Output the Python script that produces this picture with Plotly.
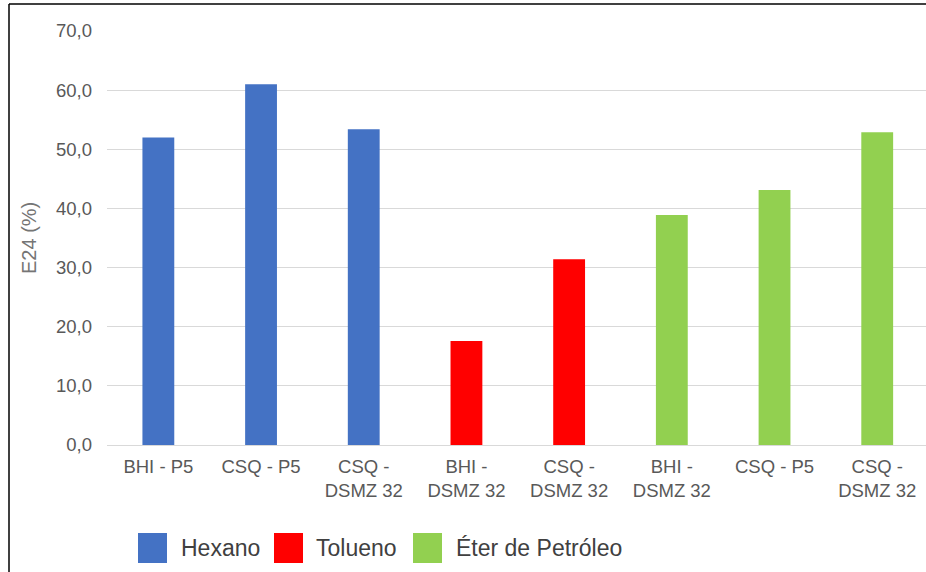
import plotly.graph_objects as go

# Category labels (one per bar, left to right)
categories = [
    "BHI - P5", "CSQ - P5", "CSQ -<br>DSMZ 32",
    "BHI -<br>DSMZ 32", "CSQ -<br>DSMZ 32",
    "BHI -<br>DSMZ 32", "CSQ - P5", "CSQ -<br>DSMZ 32",
]

# E24 values (%) per solvent
hexano = [52.0, 61.0, 53.4]
tolueno = [17.6, 31.4]
eter = [38.9, 43.1, 52.9]

series_names = ["Hexano", "Tolueno", "Éter de Petróleo"]
series_values = [hexano, tolueno, eter]
series_colors = ["#4472C4", "#FF0000", "#92D050"]

y_ticks = [0, 10, 20, 30, 40, 50, 60, 70]

W, H = 926, 572
L, R, T, B = 107, 926, 31, 445
FONT = "Liberation Sans, Arial, sans-serif"


def xp(px):
    return (px - L) / (R - L)


def yp(py):
    return (B - py) / (B - T)


fig = go.Figure()
pos = 0
for name, vals, col in zip(series_names, series_values, series_colors):
    xs = list(range(pos, pos + len(vals)))
    pos += len(vals)
    fig.add_trace(go.Bar(
        x=xs, y=vals, name=name, width=0.31,
        marker=dict(color=col, line=dict(color=col, width=0)),
        showlegend=False,
    ))

fig.update_layout(
    width=W, height=H,
    margin=dict(l=L, r=W - R, t=T, b=H - B, pad=0),
    paper_bgcolor="white", plot_bgcolor="white",
    barmode="overlay",
    separators=",.",
    font=dict(family=FONT, color="#595959", size=18.5),
    xaxis=dict(
        tickvals=list(range(len(categories))), ticktext=categories,
        range=[-0.5, 7.475], showgrid=False, zeroline=False,
        showline=False, ticks="", ticklabelstandoff=8,
        tickfont=dict(size=18.5, color="#595959"),
    ),
    yaxis=dict(
        range=[0, 70], tickvals=y_ticks, tickformat=".1f",
        showgrid=True, gridcolor="#d9d9d9", gridwidth=1,
        zeroline=True, zerolinecolor="#d9d9d9", zerolinewidth=1,
        showline=False, ticks="", ticklabelstandoff=14,
        tickfont=dict(size=18.5, color="#595959"),
    ),
)

# y-axis title
fig.add_annotation(
    text="E24 (%)", textangle=-90, showarrow=False,
    xref="paper", yref="paper", x=xp(29), y=yp(238),
    xanchor="center", yanchor="middle",
    font=dict(size=20, color="#757575", family=FONT),
)

# legend drawn as coloured squares with series names
legend_sq_x = [138, 274, 413]
legend_txt_x = [179, 314, 454]
sq_w, sq_top, sq_bot = 29, 533, 563
for name, col, sx, tx in zip(series_names, series_colors, legend_sq_x, legend_txt_x):
    fig.add_shape(
        type="rect", xref="paper", yref="paper",
        x0=xp(sx), x1=xp(sx + sq_w), y0=yp(sq_bot), y1=yp(sq_top),
        fillcolor=col, line=dict(width=0),
    )
    fig.add_annotation(
        text=name, showarrow=False, xref="paper", yref="paper",
        x=xp(tx), y=yp(548), xanchor="left", yanchor="middle",
        font=dict(size=23, color="#404040", family=FONT),
    )

# outer frame lines (left and top)
fig.add_shape(type="line", xref="paper", yref="paper",
              x0=xp(9), x1=xp(9), y0=yp(4), y1=yp(580),
              line=dict(color="black", width=1.5))
fig.add_shape(type="line", xref="paper", yref="paper",
              x0=xp(9), x1=xp(930), y0=yp(4), y1=yp(4),
              line=dict(color="black", width=1.5))

fig.write_html("out.html")
